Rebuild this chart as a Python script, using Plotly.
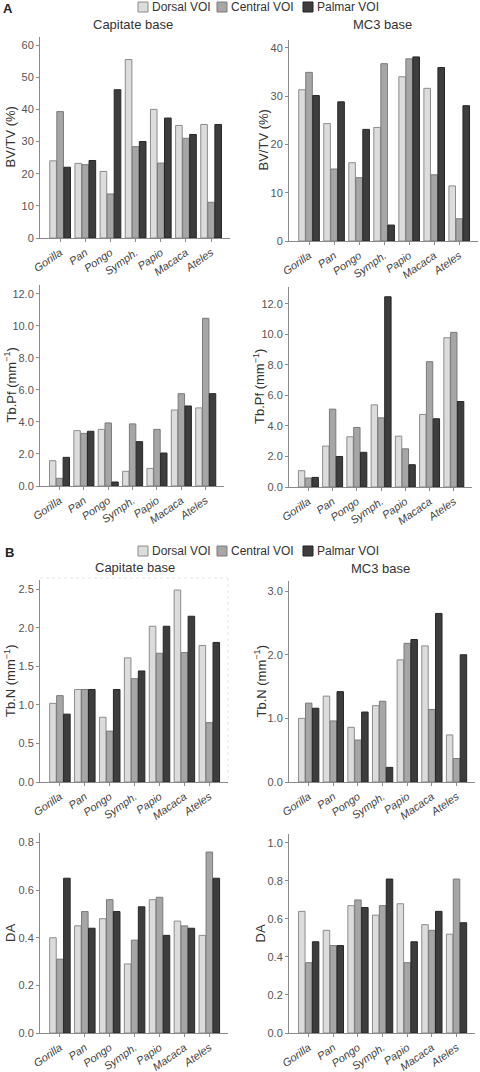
import plotly.graph_objects as go

W, H = 480, 1072

species = ["Gorilla", "Pan", "Pongo", "Symph.", "Papio", "Macaca", "Ateles"]
series_names = ["Dorsal VOI", "Central VOI", "Palmar VOI"]

# BV/TV (%)
bvtv_cap_dorsal = [24.0, 23.2, 20.7, 55.5, 40.0, 35.0, 35.3]
bvtv_cap_central = [39.3, 22.8, 13.7, 28.4, 23.3, 31.0, 11.1]
bvtv_cap_palmar = [22.0, 24.1, 46.1, 30.0, 37.3, 32.2, 35.3]

bvtv_mc3_dorsal = [31.3, 24.3, 16.2, 23.5, 34.0, 31.6, 11.4]
bvtv_mc3_central = [34.9, 14.9, 13.1, 36.7, 37.7, 13.7, 4.6]
bvtv_mc3_palmar = [30.1, 28.8, 23.1, 3.3, 38.1, 35.9, 28.0]

# Tb.Pf (mm^-1)
tbpf_cap_dorsal = [1.58, 3.46, 3.54, 0.92, 1.10, 4.75, 4.88]
tbpf_cap_central = [0.48, 3.29, 3.94, 3.88, 3.54, 5.77, 10.48]
tbpf_cap_palmar = [1.79, 3.42, 0.25, 2.77, 2.06, 5.00, 5.77]

tbpf_mc3_dorsal = [1.07, 2.68, 3.29, 5.38, 3.33, 4.75, 9.78]
tbpf_mc3_central = [0.59, 5.10, 3.90, 4.53, 2.50, 8.21, 10.13]
tbpf_mc3_palmar = [0.63, 2.00, 2.27, 12.46, 1.46, 4.47, 5.60]

# Tb.N (mm^-1)
tbn_cap_dorsal = [1.02, 1.20, 0.84, 1.61, 2.02, 2.49, 1.77]
tbn_cap_central = [1.12, 1.20, 0.66, 1.34, 1.67, 1.68, 0.77]
tbn_cap_palmar = [0.88, 1.20, 1.20, 1.44, 2.02, 2.15, 1.81]

tbn_mc3_dorsal = [1.00, 1.35, 0.86, 1.20, 1.92, 2.14, 0.74]
tbn_mc3_central = [1.24, 0.96, 0.66, 1.27, 2.18, 1.14, 0.37]
tbn_mc3_palmar = [1.16, 1.42, 1.10, 0.23, 2.24, 2.65, 2.00]

# DA
da_cap_dorsal = [0.40, 0.45, 0.48, 0.29, 0.56, 0.47, 0.41]
da_cap_central = [0.31, 0.51, 0.56, 0.39, 0.57, 0.45, 0.76]
da_cap_palmar = [0.65, 0.44, 0.51, 0.53, 0.41, 0.44, 0.65]

da_mc3_dorsal = [0.64, 0.54, 0.67, 0.62, 0.68, 0.57, 0.52]
da_mc3_central = [0.37, 0.46, 0.70, 0.67, 0.37, 0.54, 0.81]
da_mc3_palmar = [0.48, 0.46, 0.66, 0.81, 0.48, 0.64, 0.58]

fills = ["#dcdcdc", "#a6a6a6", "#3d3d3d"]
lines = ["#8c8c8c", "#7a7a7a", "#262626"]

# panel: (data triple, x px domain, y px domain (top, bottom), yrange, dtick, tickformat, ytitle, ytitle x px)
panels = [
    ((bvtv_cap_dorsal, bvtv_cap_central, bvtv_cap_palmar), (40, 230), (37, 238), [0, 62.5], 10, "d", "BV/TV (%)", 10),
    ((bvtv_mc3_dorsal, bvtv_mc3_central, bvtv_mc3_palmar), (289, 478), (40, 241), [0, 41.6], 10, "d", "BV/TV (%)", 263),
    ((tbpf_cap_dorsal, tbpf_cap_central, tbpf_cap_palmar), (40, 224), (285, 486), [0, 12.56], 2, ".1f", "Tb.Pf (mm<sup>−1</sup>)", 10),
    ((tbpf_mc3_dorsal, tbpf_mc3_central, tbpf_mc3_palmar), (289, 472), (287, 487), [0, 13.1], 2, ".1f", "Tb.Pf (mm<sup>−1</sup>)", 259),
    ((tbn_cap_dorsal, tbn_cap_central, tbn_cap_palmar), (40, 228), (580, 782), [0, 2.62], 0.5, ".1f", "Tb.N (mm<sup>−1</sup>)", 10),
    ((tbn_mc3_dorsal, tbn_mc3_central, tbn_mc3_palmar), (289, 475), (581, 782), [0, 3.16], 1, ".1f", "Tb.N (mm<sup>−1</sup>)", 260),
    ((da_cap_dorsal, da_cap_central, da_cap_palmar), (40, 228), (833, 1033), [0, 0.84], 0.2, ".1f", "DA", 10),
    ((da_mc3_dorsal, da_mc3_central, da_mc3_palmar), (289, 475), (834, 1033), [0, 1.047], 0.2, ".1f", "DA", 260),
]

FONT = "Liberation Sans, Arial, sans-serif"
fig = go.Figure()
layout = {}
annotations = []
shapes = []

def fx(px):
    return px / W

def fy(py):
    return 1 - py / H

for i, (data, xd, yd, yr, dt, tf, ytitle, tx) in enumerate(panels):
    n = i + 1
    xa = "x" if n == 1 else f"x{n}"
    ya = "y" if n == 1 else f"y{n}"
    for s in range(3):
        fig.add_trace(go.Bar(
            x=species, y=data[s], name=series_names[s],
            marker=dict(color=fills[s], line=dict(color=lines[s], width=1)),
            xaxis=xa, yaxis=ya, showlegend=False, offsetgroup=str(s),
        ))
    layout["xaxis" if n == 1 else f"xaxis{n}"] = dict(
        domain=[fx(xd[0]), fx(xd[1])], anchor=ya, type="category",
        range=[-0.8, 6.75], showline=True, linecolor="#8a8a8a", linewidth=1,
        ticks="outside", ticklen=3, tickcolor="#8a8a8a", tickangle=-35,
        tickfont=dict(family=FONT, size=11, color="#444444", style="italic"),
        showgrid=False, zeroline=False, fixedrange=True, automargin=False,
    )
    layout["yaxis" if n == 1 else f"yaxis{n}"] = dict(
        domain=[fy(yd[1]), fy(yd[0])], anchor=xa, range=yr,
        dtick=dt, tick0=0, tickformat=tf, showline=True, linecolor="#8a8a8a",
        linewidth=1, ticks="outside", ticklen=3, tickcolor="#8a8a8a",
        tickfont=dict(family=FONT, size=11, color="#555555"),
        showgrid=False, zeroline=False, fixedrange=True, automargin=False,
    )
    annotations.append(dict(
        text=ytitle, x=fx(tx), y=fy((yd[0] + yd[1]) / 2), xref="paper", yref="paper",
        textangle=-90, showarrow=False, xanchor="center", yanchor="middle",
        font=dict(family=FONT, size=13, color="#333333"),
    ))

# panel titles
for txt, x, y in [("Capitate base", 133, 25), ("MC3 base", 382, 25),
                  ("Capitate base", 135, 567), ("MC3 base", 380, 568)]:
    annotations.append(dict(text=txt, x=fx(x), y=fy(y), xref="paper", yref="paper",
                            showarrow=False, xanchor="center", yanchor="middle",
                            font=dict(family=FONT, size=13, color="#333333")))

# panel letters
for txt, x, y in [("A", 8, 8), ("B", 9, 552)]:
    annotations.append(dict(text=f"<b>{txt}</b>", x=fx(x), y=fy(y), xref="paper", yref="paper",
                            showarrow=False, xanchor="center", yanchor="middle",
                            font=dict(family=FONT, size=13, color="#222222")))

# legends (one per figure part)
for ly in [7, 551]:
    for s, bx in enumerate([138, 217, 303]):
        shapes.append(dict(type="rect", xref="paper", yref="paper",
                           x0=fx(bx), x1=fx(bx + 10), y0=fy(ly + 5), y1=fy(ly - 5),
                           fillcolor=fills[s], line=dict(color=lines[s] if s < 2 else "#222222", width=1)))
        annotations.append(dict(text=series_names[s], x=fx(bx + 12), y=fy(ly), xref="paper", yref="paper",
                                showarrow=False, xanchor="left", yanchor="middle",
                                font=dict(family=FONT, size=12, color="#333333")))

# faint dotted frame on the Tb.N capitate panel
shapes.append(dict(type="line", xref="paper", yref="paper", x0=fx(40), x1=fx(228), y0=fy(578), y1=fy(578),
                   line=dict(color="#e4e4e4", width=1, dash="dot")))
shapes.append(dict(type="line", xref="paper", yref="paper", x0=fx(228), x1=fx(228), y0=fy(578), y1=fy(782),
                   line=dict(color="#e4e4e4", width=1, dash="dot")))

fig.update_layout(
    width=W, height=H, margin=dict(l=0, r=0, t=0, b=0, autoexpand=False),
    paper_bgcolor="white", plot_bgcolor="white",
    barmode="group", bargap=0.16, bargroupgap=0.06,
    annotations=annotations, shapes=shapes, showlegend=False,
    font=dict(family=FONT),
    **layout,
)

fig.write_html(
    "out.html",
    config={"displayModeBar": False},
    post_script="document.body.style.margin='0';document.body.style.padding='0';document.documentElement.style.overflow='hidden';",
)
